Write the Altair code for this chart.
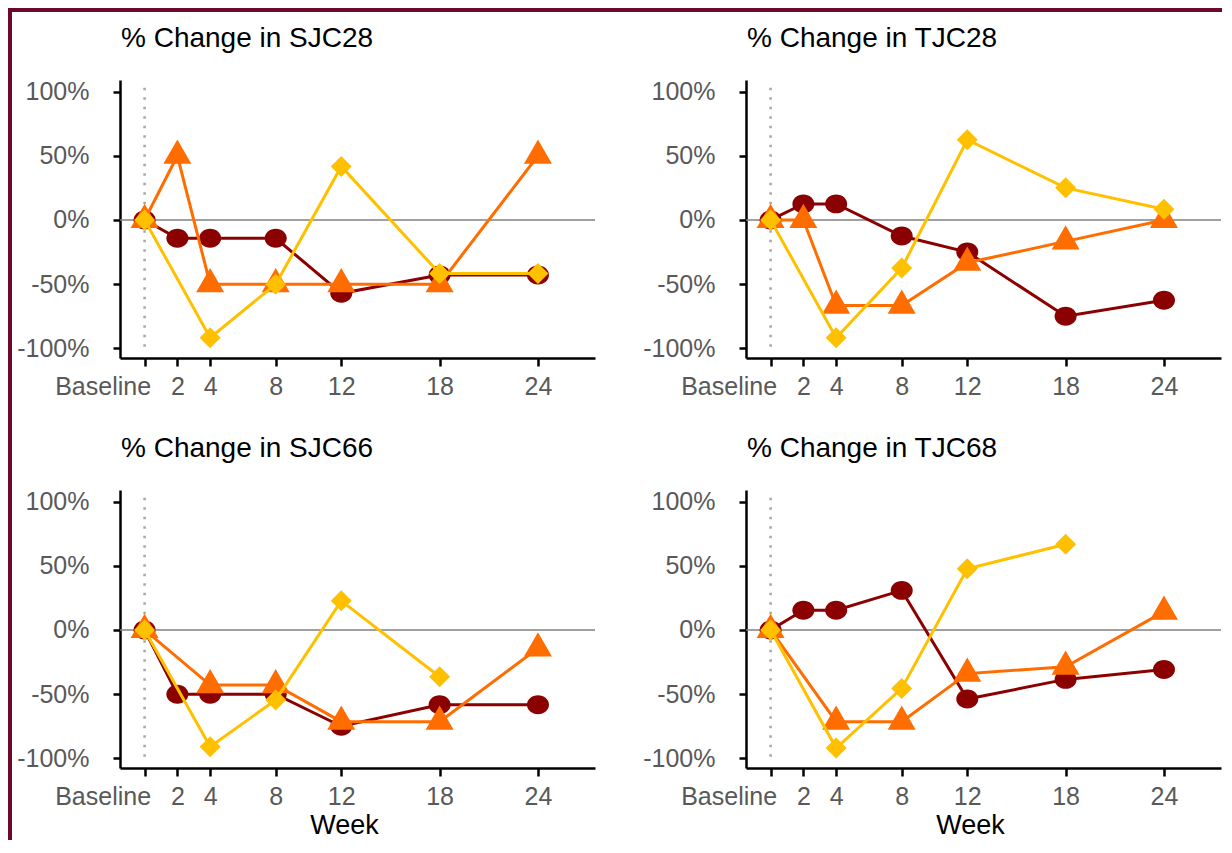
import altair as alt
import pandas as pd

# ---------------- data ----------------
weeks = [0, 2, 4, 8, 12, 18, 24]
y_ticks = [-100, -50, 0, 50, 100]

panel_titles = ["% Change in SJC28", "% Change in TJC28",
                "% Change in SJC66", "% Change in TJC68"]
series_names = ["Series 1", "Series 2", "Series 3"]
series_colors = ["#8B0000", "#FF6D00", "#FFC000"]

# percent change by week (None = no observation)
sjc28_s1 = [0, -14.3, -14.3, -14.3, -57.1, -42.9, -42.9]
sjc28_s2 = [0, 50, -50, -50, -50, -50, 50]
sjc28_s3 = [0, None, -91.7, -50, 41.7, -41.7, -41.7]

tjc28_s1 = [0, 12.5, 12.5, -12.5, -25, -75, -62.5]
tjc28_s2 = [0, 0, -66.7, -66.7, -33.3, -16.7, 0]
tjc28_s3 = [0, None, -91.7, -37.5, 62.5, 25, 8.3]

sjc66_s1 = [0, -50, -50, -50, -75, -58.3, -58.3]
sjc66_s2 = [0, None, -42.9, -42.9, -71.4, -71.4, -14.3]
sjc66_s3 = [0, None, -90.9, -54.5, 22.7, -36.4, None]

tjc68_s1 = [0, 15.4, 15.4, 30.8, -53.8, -38.5, -30.8]
tjc68_s2 = [0, None, -71.4, -71.4, -34.0, -28.6, 14.3]
tjc68_s3 = [0, None, -92.0, -45.5, 47.7, 66.7, None]

panel_series = [
    [sjc28_s1, sjc28_s2, sjc28_s3],
    [tjc28_s1, tjc28_s2, tjc28_s3],
    [sjc66_s1, sjc66_s2, sjc66_s3],
    [tjc68_s1, tjc68_s2, tjc68_s3],
]

# ---------------- styling ----------------
MAROON = "#6D0A2B"
FONT = "Liberation Sans"
ELLIPSE = "M-1,0A1,0.86,0,1,1,1,0A1,0.86,0,1,1,-1,0Z"
TRIANGLE = "M0,-1.155L1,0.577L-1,0.577Z"
shapes = [ELLIPSE, TRIANGLE, "diamond"]
sizes = [484, 784, 441]

PW, PH = 475, 278
GAP_R = 516   # right extent reserved by left-column panels
GAP_L = 110   # left extent reserved by right-column panels

dummy = pd.DataFrame({"a": [0]})


def deco_rect(x1, x2, y1, y2, color):
    return alt.Chart(dummy).mark_rect(color=color).encode(
        x=alt.value(x1), x2=alt.value(x2), y=alt.value(y1), y2=alt.value(y2))


def make_panel(idx, bottom):
    title = panel_titles[idx]
    series_lists = panel_series[idx]
    x_axis = alt.Axis(
        values=weeks,
        labelExpr="datum.value == 0 ? 'Baseline' : datum.label",
        labelAlign={"condition": {"test": "datum.value == 0", "value": "right"}, "value": "center"},
        labelOffset={"condition": {"test": "datum.value == 0", "value": 6}, "value": 0},
        labelFlush=False,
        labelOverlap=False,
        tickSize=8,
        labelPadding=8,
        title="Week" if bottom else None,
        titleX=224,
        titleY=65,
        titleBaseline="alphabetic",
    )
    y_axis = alt.Axis(
        values=y_ticks,
        labelExpr="datum.value + '%'",
        tickSize=7,
        labelPadding=24,
        title=None,
    )
    X = alt.X("week:Q", scale=alt.Scale(domain=[-1.5, 27.48], nice=False, zero=False), axis=x_axis)
    Y = alt.Y("pct:Q", scale=alt.Scale(domain=[-107.5, 109], nice=False, zero=False), axis=y_axis)

    zero = alt.Chart(pd.DataFrame({"pct": [0]})).mark_rule(
        color="#808080", strokeWidth=1.5).encode(y=Y)
    dotted = alt.Chart(pd.DataFrame({"week": [0], "pct": [103], "pct_end": [-99]})).mark_rule(
        color="#A6A6A6", strokeWidth=2.5, strokeDash=[2.5, 7]).encode(
        x=X, y=Y, y2=alt.Y2("pct_end:Q"))

    layers = [zero, dotted]
    for name, vals, color, shape, size in zip(series_names, series_lists, series_colors, shapes, sizes):
        rows = [{"week": w, "pct": v, "series": name} for w, v in zip(weeks, vals) if v is not None]
        df = pd.DataFrame(rows)
        line = alt.Chart(df).mark_line(color=color, strokeWidth=3).encode(x=X, y=Y)
        pts = alt.Chart(df).mark_point(filled=True, shape=shape, size=size, color=color,
                                       opacity=1, strokeWidth=0).encode(x=X, y=Y)
        layers += [line, pts]

    # panel title as text
    ttl = alt.Chart(pd.DataFrame({"t": [title]})).mark_text(
        align="left", baseline="alphabetic", font=FONT, fontSize=28, color="#000000"
    ).encode(text="t:N", x=alt.value(1), y=alt.value(-33))
    layers.append(ttl)

    # frame decorations (maroon border on the left and top of the figure)
    if idx == 0:
        layers.append(deco_rect(-112, GAP_R, -72, -68, MAROON))
        layers.append(deco_rect(-112, -108, -72, 340, MAROON))
    elif idx == 1:
        layers.append(deco_rect(-GAP_L, PW + 1, -72, -68, MAROON))
    elif idx == 2:
        layers.append(deco_rect(-112, -108, -70, 350, MAROON))
        layers.append(deco_rect(GAP_R - 1, GAP_R, 0, 1, "#FFFFFF"))
    else:
        layers.append(deco_rect(-GAP_L, -GAP_L + 1, 0, 1, "#FFFFFF"))

    return alt.layer(*layers).properties(width=PW, height=PH)


p1 = make_panel(0, False)
p2 = make_panel(1, False)
p3 = make_panel(2, True)
p4 = make_panel(3, True)

chart = alt.vconcat(
    alt.hconcat(p1, p2, spacing=0),
    alt.hconcat(p3, p4, spacing=0),
    spacing=0,
    padding=0,
).configure(
    background="white",
).configure_view(
    strokeWidth=0,
).configure_axis(
    domainColor="#000000",
    domainWidth=2.5,
    tickColor="#000000",
    tickWidth=2.5,
    labelFont=FONT,
    labelFontSize=25,
    labelColor="#595959",
    grid=False,
    titleFont=FONT,
    titleFontSize=27,
    titleFontWeight="normal",
    titleColor="#000000",
)

chart.save("out.html", embed_options={"renderer": "svg", "actions": False})
